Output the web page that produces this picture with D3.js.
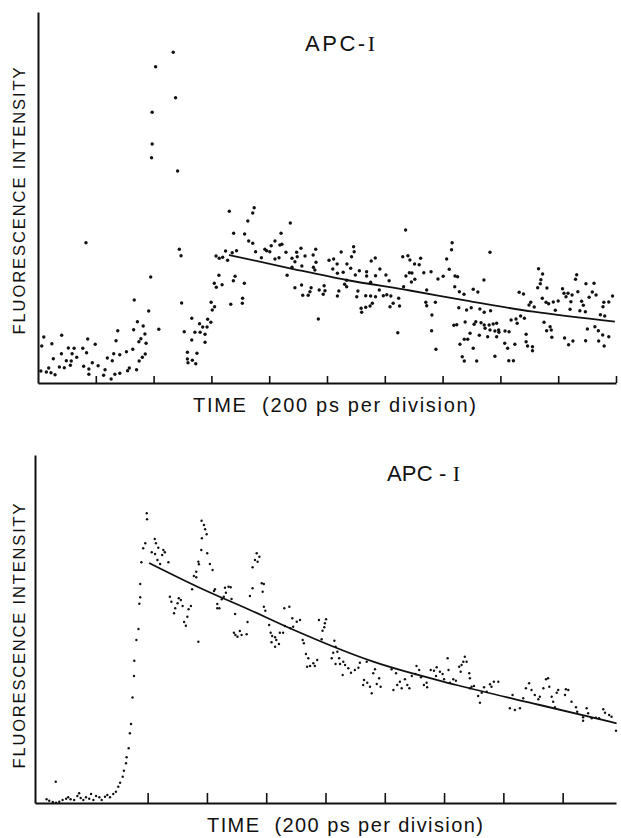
<!DOCTYPE html>
<html>
<head>
<meta charset="utf-8">
<script src="https://cdn.jsdelivr.net/npm/d3@7"></script>
<style>
  html, body { margin: 0; padding: 0; background: #fff; }
  svg { display: block; }
  text { font-family: "Liberation Sans", Arial, sans-serif; fill: #111; }
</style>
</head>
<body>
<svg id="chart" width="621" height="838"></svg>
<script>
// ---- Panel A: APC-I decay, time in ps, intensity in counts ----
const topTitle = "APC-I";
const yLabel = "FLUORESCENCE INTENSITY";
const xLabel = "TIME  (200 ps per division)";
const topTicks = [200, 400, 600, 800, 1000, 1200, 1400, 1600, 1800, 2000];

const topDecay = [
  [10,120],[13,370],[20,460],[29,110],[37,150],[45,103],[48,393],[53,243],[59,83],[74,160],
  [81,293],[82,477],[91,153],[98,223],[105,350],[112,177],[115,220],[118,293],[125,347],[134,257],
  [155,347],[158,167],[166,1403],[168,303],[172,440],[176,140],[176,87],[188,203],[198,387],[208,173],
  [227,77],[232,133],[240,250],[253,40],[257,223],[262,293],[266,87],[270,423],[276,523],[283,283],
  [283,97],[306,313],[310,123],[316,150],[328,337],[331,533],[333,830],[341,133],[344,613],[349,413],
  [350,220],[356,443],[361,257],[364,570],[370,490],[371,290],[374,397],[383,720],[390,1060],[393,2253],
  [395,2390],[395,2707],[407,3163],[418,537],[468,3307],[476,2853],[483,2120],[489,1337],[495,1273],[497,800],
  [506,513],[517,307],[517,240],[519,203],[532,647],[532,430],[534,227],[543,507],[546,193],[550,297],
  [559,593],[561,507],[570,560],[578,487],[578,407],[587,637],[599,807],[603,730],[610,997],[585,560],
  [598,607],[611,763],[616,1270],[617,957],[626,1077],[627,1247],[637,983],[639,1257],[649,1320],[656,1227],
  [662,1717],[667,787],[672,1303],[676,1023],[677,1497],[682,1067],[687,1323],[707,797],[708,847],[714,997],
  [715,1490],[726,1620],[729,1420],[743,1700],[743,1397],[748,1753],[753,1313],[773,1253],[785,1337],[791,1323],
  [802,1313],[807,1373],[820,1420],[820,1240],[834,1253],[837,1380],[841,1497],[844,1387],[858,1307],[862,1077],
  [873,1600],[879,1247],[879,1157],[889,1213],[889,953],[895,1307],[897,1263],[910,1347],[912,980],[913,1170],
  [916,877],[924,1270],[935,877],[941,913],[945,953],[952,1280],[953,1157],[958,1130],[961,1337],[962,1207],
  [970,640],[973,930],[987,887],[990,973],[993,923],[1007,1227],[1020,1140],[1023,1240],[1035,1190],[1036,1097],
  [1036,870],[1041,920],[1049,1310],[1056,1107],[1061,987],[1068,1027],[1068,963],[1069,1190],[1082,1147],[1085,1263],
  [1092,1363],[1094,1313],[1098,1080],[1103,863],[1107,920],[1112,1123],[1118,747],[1120,707],[1134,873],[1134,757],
  [1137,1113],[1137,1070],[1149,770],[1151,1007],[1151,870],[1153,1220],[1157,797],[1167,1250],[1168,1073],[1168,863],
  [1181,930],[1183,1140],[1195,873],[1204,1080],[1207,883],[1215,1023],[1218,763],[1221,870],[1229,797],[1245,503],
  [1248,847],[1251,770],[1262,1263],[1265,963],[1272,1530],[1273,1070],[1280,1273],[1285,1103],[1287,1230],[1292,1010],
  [1294,1100],[1303,1190],[1304,1037],[1319,1183],[1324,1247],[1335,1103],[1342,807],[1345,930],[1345,773],[1360,1113],
  [1362,523],[1363,680],[1375,807],[1377,337],[1384,1040],[1402,1067],[1414,1240],[1423,1137],[1431,1333],[1433,1403],
  [1439,577],[1442,963],[1443,1070],[1449,583],[1452,1063],[1456,753],[1458,913],[1460,387],[1468,263],[1474,887],
  [1475,437],[1475,220],[1478,610],[1483,730],[1487,437],[1495,497],[1499,753],[1506,937],[1506,347],[1509,587],
  [1515,613],[1518,220],[1522,910],[1527,477],[1529,740],[1533,603],[1543,1030],[1544,707],[1544,580],[1547,547],
  [1556,463],[1561,580],[1564,1307],[1564,530],[1566,723],[1575,590],[1581,520],[1581,267],[1587,597],[1587,463],
  [1594,530],[1595,507],[1615,397],[1616,520],[1625,347],[1629,223],[1630,513],[1637,630],[1645,223],[1650,387],
  [1654,640],[1658,597],[1665,907],[1670,670],[1680,890],[1683,647],[1689,487],[1689,413],[1694,370],[1699,780],
  [1705,807],[1711,363],[1711,323],[1717,760],[1729,953],[1732,1143],[1738,993],[1740,1033],[1745,847],[1746,1090],
  [1751,607],[1758,807],[1760,523],[1761,950],[1767,793],[1772,563],[1776,530],[1778,457],[1783,810],[1790,727],
  [1800,820],[1815,943],[1820,897],[1822,450],[1827,863],[1834,897],[1836,383],[1841,737],[1844,813],[1848,880],
  [1851,420],[1860,1037],[1864,1083],[1868,913],[1875,723],[1881,817],[1887,777],[1894,713],[1895,423],[1896,993],
  [1901,540],[1907,857],[1918,910],[1924,997],[1927,563],[1931,880],[1939,523],[1940,420],[1946,683],[1954,480],
  [1955,763],[1958,807],[1959,370],[1961,670],[1975,810],[1975,463],[1988,870]
];

// single-exponential fit through the decay tail
const topFit = [[661,1280],[872,1147],[1068,1030],[1287,925],[1483,823],[1714,713],[1996,613]];

// ---- Panel B: APC-I decay ----
const bottomTitle = "APC - I";
const bottomTicks = [380, 580, 780, 980, 1180, 1380, 1580, 1780];

const bottomDecay = [
  [39,37],[48,23],[60,10],[70,213],[71,3],[82,13],[93,30],[105,43],[112,57],[120,37],
  [132,30],[143,70],[149,97],[154,50],[163,30],[172,57],[183,43],[189,90],[197,30],[206,70],
  [217,57],[225,30],[236,63],[244,80],[253,57],[264,90],[273,113],[281,163],[287,203],[296,263],
  [300,323],[307,397],[309,457],[316,547],[320,697],[324,790],[329,1055],[334,1270],[335,1423],[342,1630],
  [349,1740],[352,1993],[355,2057],[355,2190],[359,2407],[365,2547],[372,2597],[377,2897],[378,2837],
  [394,2507],[404,2640],[405,2490],[408,2597],[413,2430],[416,2553],[422,2390],[429,2480],[433,2530],[438,2507],
  [450,2407],[455,2063],[460,2013],[469,1897],[473,1947],[481,1997],[485,2047],[492,2030],[498,1970],[503,1810],
  [509,1773],[514,1863],[518,1937],[526,1970],[530,2137],[536,2270],[544,2313],[544,2257],[551,2413],[551,1613],
  [553,2387],[561,2530],[562,2823],[563,2647],[570,2780],[574,2737],[579,2687],[581,2497],[590,2390],[599,2330],
  [604,2120],[607,2137],[615,1990],[615,1947],[622,1947],[630,2037],[637,2063],[641,2153],[644,2103],[653,2163],
  [660,2157],[663,2040],[671,1703],[675,1890],[676,1680],[683,1663],[691,1720],[697,1680],[714,1687],[717,1810],
  [725,2070],[734,2147],[734,2357],[742,2430],[748,2497],[751,2413],[757,2463],[765,2197],[768,2113],[772,2190],
  [772,1963],[777,1923],[790,1780],[795,1703],[798,1607],[800,1670],[810,1657],[810,1563],[814,1630],[823,1590],
  [826,1703],[837,1703],[841,1947],[843,1770],[858,1963],[862,1747],[868,1847],[871,1763],[883,1813],[894,1830],
  [903,1630],[907,1597],[914,1490],[918,1363],[922,1447],[928,1370],[939,1397],[944,1370],[952,1430],[958,1830],
  [967,1637],[970,1723],[976,1757],[978,1797],[982,1837],[1001,1447],[1006,1503],[1010,1623],[1014,1563],[1014,1390],
  [1020,1513],[1026,1447],[1029,1390],[1038,1280],[1040,1413],[1046,1380],[1057,1347],[1066,1303],[1079,1330],[1091,1353],
  [1096,1403],[1107,1180],[1110,1230],[1119,1413],[1121,1203],[1130,1163],[1136,1097],[1141,1297],[1147,1337],[1153,1190],
  [1161,1247],[1166,1163],[1203,1337],[1209,1130],[1218,1297],[1222,1180],[1231,1213],[1237,1147],[1248,1237],[1256,1180],
  [1263,1147],[1271,1270],[1283,1290],[1287,1370],[1296,1330],[1302,1257],[1312,1180],[1321,1203],[1323,1157],[1335,1330],
  [1346,1323],[1353,1270],[1355,1357],[1366,1313],[1375,1290],[1380,1237],[1392,1447],[1395,1330],[1400,1203],[1411,1237],
  [1420,1223],[1431,1363],[1436,1313],[1439,1380],[1445,1413],[1450,1463],[1456,1413],[1465,1297],[1467,1247],[1467,1147],
  [1473,1163],[1481,1170],[1495,1070],[1501,1003],[1507,1103],[1515,1157],[1524,1113],[1535,1187],[1540,1163],[1548,1213],
  [1563,1213],[1602,947],[1611,1080],[1619,930],[1636,947],[1647,1047],[1656,1147],[1667,1197],[1675,1130],[1686,1080],
  [1698,1037],[1703,1063],[1715,1147],[1724,1237],[1731,1247],[1735,1163],[1743,1063],[1748,1013],[1754,957],[1760,1103],
  [1765,1130],[1788,1080],[1791,1137],[1799,1130],[1810,1013],[1825,957],[1829,913],[1849,857],[1849,823],[1861,947],
  [1866,897],[1878,847],[1892,853],[1903,847],[1917,937],[1923,903],[1937,880],[1945,863],[1960,723]
];

const bottomFit = [[385,2400],[557,2150],[725,1930],[860,1747],[1141,1413],[1422,1180],[1703,980],[1962,797]];

const svg = d3.select("#chart");

function drawPanel(cfg) {
  const x = d3.scaleLinear().domain(cfg.xDomain).range(cfg.xRange);
  const y = d3.scaleLinear().domain(cfg.yDomain).range(cfg.yRange);
  const g = svg.append("g");

  // fitted decay curve
  g.append("path")
    .datum(cfg.fit)
    .attr("fill", "none")
    .attr("stroke", "#111")
    .attr("stroke-width", 1.8)
    .attr("d", d3.line().x(d => x(d[0])).y(d => y(d[1])).curve(d3.curveMonotoneX));

  // photon-count points
  g.append("g").selectAll("circle")
    .data(cfg.points)
    .join("circle")
    .attr("cx", d => x(d[0]))
    .attr("cy", d => y(d[1]))
    .attr("r", cfg.dotR)
    .attr("fill", "#111");

  // time axis with inward division ticks
  const xAxis = g.append("g")
    .attr("transform", `translate(0,${cfg.yRange[0]})`)
    .call(d3.axisBottom(x).tickValues(cfg.ticks).tickSize(-cfg.tickLen).tickSizeOuter(0).tickFormat(""));
  xAxis.select(".domain").attr("stroke", "#111").attr("stroke-width", 2);
  xAxis.selectAll(".tick line").attr("stroke", "#111").attr("stroke-width", 1.6);

  // intensity axis, no ticks
  const yAxis = g.append("g")
    .attr("transform", `translate(${cfg.xRange[0]},0)`)
    .call(d3.axisLeft(y).tickValues([]).tickSizeOuter(0));
  yAxis.select(".domain").attr("stroke", "#111").attr("stroke-width", 2);

  // panel title
  const t = g.append("text")
    .attr("x", cfg.title.x).attr("y", cfg.title.y)
    .attr("font-size", 22)
    .attr("textLength", cfg.title.len)
    .attr("lengthAdjust", "spacing");
  t.append("tspan").text(cfg.title.text.slice(0, -1));
  t.append("tspan").attr("font-family", "'Liberation Serif', serif").text(cfg.title.text.slice(-1));

  // axis titles
  g.append("text")
    .attr("transform", `translate(${cfg.yLab.x},${cfg.yLab.y}) rotate(-90)`)
    .attr("text-anchor", "middle")
    .attr("font-size", 16.5)
    .attr("textLength", cfg.yLab.len)
    .attr("lengthAdjust", "spacing")
    .text(yLabel);

  g.append("text")
    .attr("x", cfg.xLab.x).attr("y", cfg.xLab.y)
    .attr("font-size", 20)
    .attr("textLength", cfg.xLab.len)
    .attr("lengthAdjust", "spacing")
    .style("white-space", "pre")
    .text(xLabel);
}

drawPanel({
  xDomain: [0, 2000], xRange: [38, 616],
  yDomain: [0, 3710], yRange: [383, 12],
  points: topDecay, fit: topFit, ticks: topTicks, tickLen: 7, dotR: 1.7,
  title: { text: topTitle, x: 305, y: 51, len: 70 },
  yLab: { x: 25, y: 201, len: 267 },
  xLab: { x: 193, y: 412, len: 283 }
});

drawPanel({
  xDomain: [0, 1960], xRange: [35, 616],
  yDomain: [0, 3480], yRange: [803, 455],
  points: bottomDecay, fit: bottomFit, ticks: bottomTicks, tickLen: 10, dotR: 1.2,
  title: { text: bottomTitle, x: 387, y: 481, len: 73 },
  yLab: { x: 25, y: 636, len: 265 },
  xLab: { x: 207, y: 832, len: 276 }
});
</script>
</body>
</html>
